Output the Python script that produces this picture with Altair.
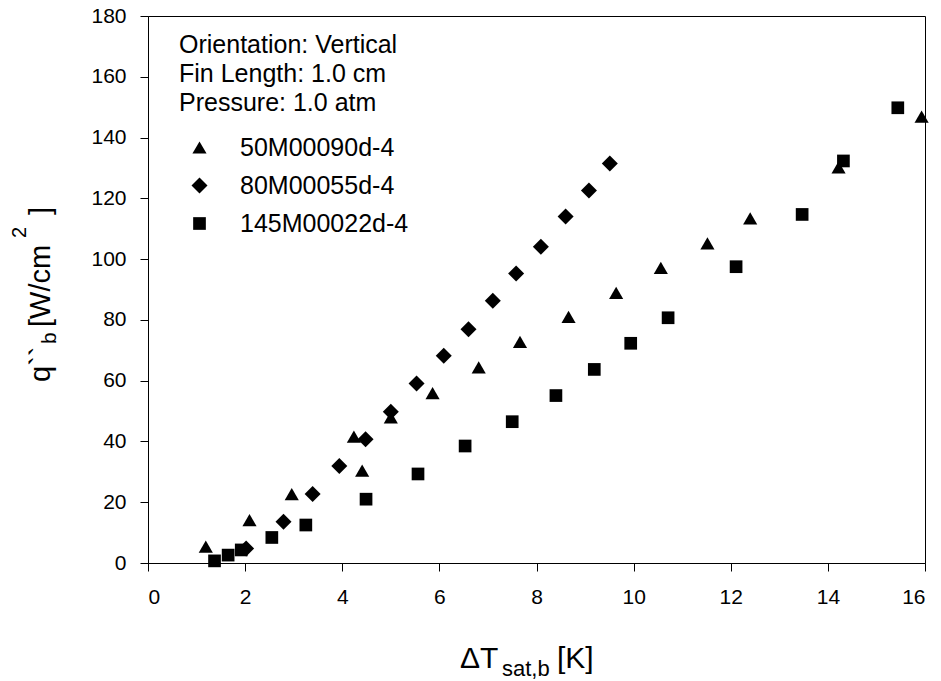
import altair as alt
import pandas as pd

# ---- data ----
series_names = ["50M00090d-4", "80M00055d-4", "145M00022d-4"]

tri_x = [1.19, 2.09, 2.96, 4.24, 4.41, 5.00, 5.86, 6.81, 7.66, 8.66, 9.64, 10.56, 11.52, 12.40, 14.22, 15.93]
tri_y = [5.4, 14.1, 22.7, 41.6, 30.4, 47.9, 55.9, 64.4, 72.8, 81.0, 88.9, 97.1, 105.2, 113.4, 130.2, 146.9]

dia_x = [2.02, 2.79, 3.39, 3.94, 4.48, 5.00, 5.53, 6.09, 6.60, 7.10, 7.58, 8.09, 8.60, 9.08, 9.51]
dia_y = [4.8, 13.6, 22.7, 31.9, 40.7, 49.8, 59.1, 68.2, 76.9, 86.3, 95.3, 104.1, 114.0, 122.6, 131.5]

sq_x = [1.37, 1.65, 1.92, 2.55, 3.25, 4.49, 5.56, 6.53, 7.50, 8.40, 9.19, 9.94, 10.71, 12.11, 13.47, 14.32, 15.44]
sq_y = [0.7, 2.6, 4.3, 8.4, 12.5, 21.0, 29.3, 38.5, 46.5, 55.1, 63.7, 72.3, 80.7, 97.5, 114.7, 132.3, 149.8]

x_ticks = [0, 2, 4, 6, 8, 10, 12, 14, 16]
y_ticks = [0, 20, 40, 60, 80, 100, 120, 140, 160, 180]

legend_title = ["Orientation: Vertical", "Fin Length: 1.0 cm", "Pressure: 1.0 atm"]

rows = []
for name, xs, ys in zip(series_names, [tri_x, dia_x, sq_x], [tri_y, dia_y, sq_y]):
    for xv, yv in zip(xs, ys):
        rows.append({"series": name, "dT": xv, "q": yv})
df = pd.DataFrame(rows)

FONT = "Liberation Sans"
W, H = 777, 547

points = alt.Chart(df).mark_point(filled=True, opacity=1, color="black").encode(
    x=alt.X("dT:Q", scale=alt.Scale(domain=[0, 16], nice=False),
            axis=alt.Axis(values=x_ticks, title=None)),
    y=alt.Y("q:Q", scale=alt.Scale(domain=[0, 180], nice=False),
            axis=alt.Axis(values=y_ticks, title=None)),
    shape=alt.Shape("series:N",
                    scale=alt.Scale(domain=series_names, range=["triangle-up", "diamond", "square"]),
                    legend=alt.Legend(title=legend_title)),
    size=alt.Size("series:N",
                  scale=alt.Scale(type="ordinal", domain=series_names, range=[200, 256, 161]),
                  legend=alt.Legend(title=legend_title)),
)

def txt(s, x, y, size, angle=0):
    return alt.Chart(alt.Data(values=[{}])).mark_text(
        text=s, font=FONT, fontSize=size, align="left", baseline="alphabetic",
        angle=angle, color="black"
    ).encode(x=alt.value(x), y=alt.value(y))

# x-axis title: ΔT_sat,b [K]
xt = [
    txt("ΔT", 312, 652, 30),
    txt("sat,b", 354, 660, 22),
    txt("[K]", 409, 652, 30),
]
# y-axis title: q``_b [W/cm^2]
yt = [
    txt("q``", -98, 366, 29, 270),
    txt("b", -92, 328, 21, 270),
    txt("[W/cm", -98, 311, 29, 270),
    txt("2", -122, 222, 20, 270),
    txt("]", -98, 199, 29, 270),
]

chart = alt.layer(points, *xt, *yt).properties(
    width=W, height=H,
    autosize=alt.AutoSizeParams(type="none"),
    padding={"left": 140, "top": 8, "right": 8, "bottom": 118},
).configure_view(
    stroke="black", strokeWidth=1
).configure_axis(
    grid=False, domainColor="black", tickColor="black", tickSize=8,
    labelFont=FONT, labelFontSize=21, labelColor="black",
).configure_axisX(labelPadding=15).configure_axisY(labelPadding=14).configure_legend(
    orient="none", legendX=31, legendY=17,
    titleFont=FONT, titleFontSize=25, titleFontWeight="normal", titleColor="black",
    titleLineHeight=29, titlePadding=19, titleLimit=400,
    labelFont=FONT, labelFontSize=25, labelColor="black", labelLimit=400,
    symbolFillColor="black", symbolStrokeColor="black", symbolOpacity=1,
    symbolOffset=8, labelOffset=28, rowPadding=12, padding=0,
)

chart.save("out.html", embed_options={"renderer": "svg", "actions": False})
